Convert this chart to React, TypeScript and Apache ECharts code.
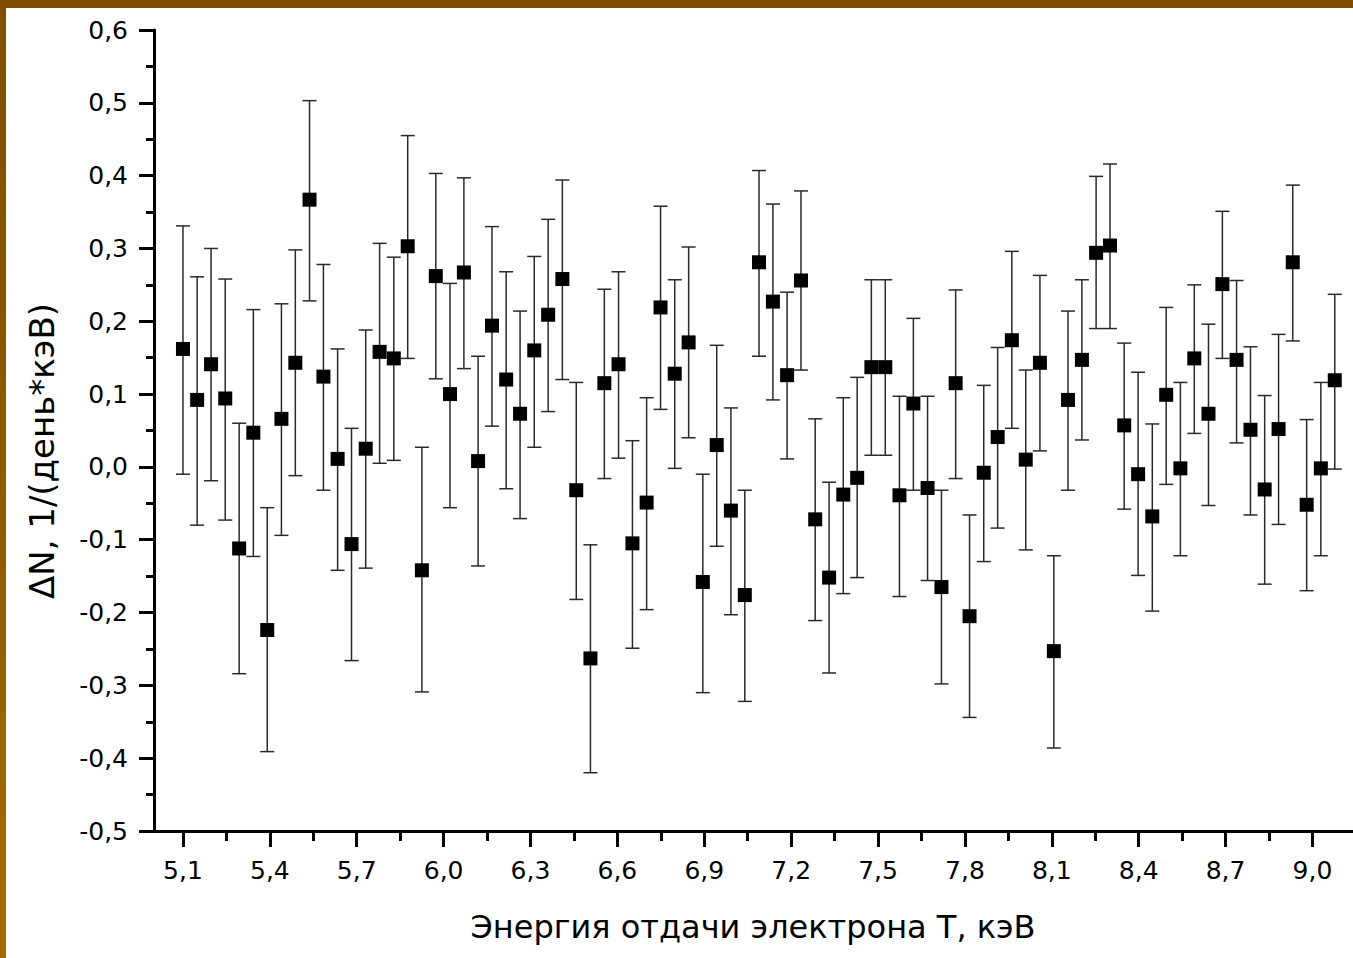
import React, { useEffect, useRef } from "react";
import * as echarts from "echarts";

const xVals = [
  5.100, 5.149, 5.197, 5.246, 5.294, 5.343, 5.391, 5.440, 5.488, 5.537,
  5.585, 5.634, 5.682, 5.731, 5.779, 5.828, 5.876, 5.925, 5.973, 6.022,
  6.070, 6.119, 6.167, 6.216, 6.264, 6.313, 6.361, 6.410, 6.458, 6.507,
  6.555, 6.604, 6.652, 6.701, 6.749, 6.798, 6.846, 6.895, 6.943, 6.992,
  7.040, 7.089, 7.137, 7.186, 7.234, 7.283, 7.331, 7.380, 7.428, 7.477,
  7.525, 7.574, 7.622, 7.671, 7.719, 7.768, 7.816, 7.865, 7.913, 7.962,
  8.010, 8.059, 8.107, 8.156, 8.204, 8.253, 8.301, 8.350, 8.398, 8.447,
  8.495, 8.544, 8.592, 8.641, 8.689, 8.738, 8.786, 8.835, 8.883, 8.932,
  8.980, 9.029, 9.077,
];

const yVals = [
  0.162, 0.092, 0.141, 0.094, -0.112, 0.047, -0.224, 0.066, 0.143, 0.367,
  0.124, 0.011, -0.106, 0.025, 0.158, 0.149, 0.303, -0.142, 0.262, 0.100,
  0.267, 0.008, 0.194, 0.120, 0.073, 0.160, 0.209, 0.258, -0.032, -0.263,
  0.115, 0.141, -0.105, -0.049, 0.219, 0.128, 0.171, -0.158, 0.030, -0.060,
  -0.176, 0.281, 0.227, 0.126, 0.256, -0.072, -0.152, -0.038, -0.015, 0.137,
  0.137, -0.039, 0.087, -0.029, -0.165, 0.115, -0.205, -0.008, 0.041, 0.174,
  0.010, 0.143, -0.253, 0.092, 0.147, 0.294, 0.304, 0.057, -0.010, -0.068,
  0.099, -0.002, 0.149, 0.073, 0.251, 0.147, 0.051, -0.031, 0.052, 0.281,
  -0.052, -0.002, 0.119,
];

const yHi = [
  0.331, 0.261, 0.300, 0.258, 0.060, 0.216, -0.056, 0.224, 0.298, 0.503,
  0.278, 0.162, 0.053, 0.188, 0.307, 0.288, 0.455, 0.027, 0.403, 0.252,
  0.397, 0.152, 0.330, 0.268, 0.214, 0.289, 0.340, 0.394, 0.116, -0.107,
  0.244, 0.268, 0.036, 0.095, 0.358, 0.257, 0.302, -0.010, 0.167, 0.081,
  -0.032, 0.407, 0.361, 0.240, 0.379, 0.066, -0.021, 0.095, 0.123, 0.257,
  0.257, 0.097, 0.204, 0.097, -0.032, 0.243, -0.066, 0.112, 0.164, 0.296,
  0.133, 0.263, -0.122, 0.214, 0.257, 0.399, 0.416, 0.170, 0.130, 0.059,
  0.219, 0.116, 0.250, 0.196, 0.351, 0.256, 0.165, 0.098, 0.182, 0.387,
  0.065, 0.116, 0.237,
];

const yLo = [
  -0.010, -0.080, -0.019, -0.073, -0.284, -0.123, -0.391, -0.094, -0.012, 0.228,
  -0.032, -0.142, -0.266, -0.139, 0.005, 0.009, 0.149, -0.309, 0.121, -0.056,
  0.135, -0.136, 0.056, -0.030, -0.071, 0.027, 0.076, 0.120, -0.182, -0.420,
  -0.016, 0.012, -0.249, -0.196, 0.079, -0.002, 0.040, -0.310, -0.109, -0.203,
  -0.322, 0.152, 0.092, 0.011, 0.133, -0.211, -0.283, -0.174, -0.152, 0.016,
  0.016, -0.178, -0.032, -0.156, -0.298, -0.016, -0.344, -0.130, -0.084, 0.053,
  -0.114, 0.022, -0.386, -0.032, 0.037, 0.190, 0.190, -0.058, -0.149, -0.198,
  -0.024, -0.122, 0.046, -0.053, 0.149, 0.033, -0.066, -0.161, -0.079, 0.173,
  -0.170, -0.122, -0.003,
];

const xMajorTicks = [5.1, 5.4, 5.7, 6.0, 6.3, 6.6, 6.9, 7.2, 7.5, 7.8, 8.1, 8.4, 8.7, 9.0];
const xMinorTicks = [5.25, 5.55, 5.85, 6.15, 6.45, 6.75, 7.05, 7.35, 7.65, 7.95, 8.25, 8.55, 8.85];

const xTitle = "Энергия отдачи электрона Т, кэВ";
const yTitle = "ΔN, 1/(день*кэВ)";

const FONT = "DejaVu Sans";

export default function App() {
  const ref = useRef<HTMLDivElement>(null);

  useEffect(() => {
    if (!ref.current) return;
    const chart = echarts.init(ref.current, undefined, { renderer: "svg" });
    const fmt = (v: number) => v.toFixed(1).replace(".", ",");
    const points = xVals.map((x, i) => [x, yVals[i]]);
    const errs = xVals.map((x, i) => [x, yLo[i], yHi[i]]);

    chart.setOption({
      animation: false,
      backgroundColor: "#fff",
      grid: { left: 154, top: 30, right: 0, bottom: 127, containLabel: false },
      xAxis: [
        {
          type: "value",
          min: 5.0,
          max: 9.14,
          position: "bottom",
          axisLine: { show: true, onZero: false, lineStyle: { color: "#000", width: 3 } },
          splitLine: { show: false },
          axisTick: {
            show: true,
            inside: false,
            length: 16,
            customValues: xMajorTicks,
            lineStyle: { color: "#000", width: 3 },
          },
          axisLabel: {
            show: true,
            customValues: xMajorTicks,
            formatter: fmt,
            margin: 27,
            fontFamily: FONT,
            fontSize: 25,
            color: "#000",
          },
        },
        {
          type: "value",
          min: 5.0,
          max: 9.14,
          position: "bottom",
          offset: 0,
          axisLine: { show: false, onZero: false },
          splitLine: { show: false },
          axisTick: {
            show: true,
            inside: false,
            length: 10,
            customValues: xMinorTicks,
            lineStyle: { color: "#000", width: 3 },
          },
          axisLabel: { show: false },
        },
      ],
      yAxis: {
        type: "value",
        min: -0.5,
        max: 0.6,
        interval: 0.1,
        axisLine: { show: true, onZero: false, lineStyle: { color: "#000", width: 3 } },
        splitLine: { show: false },
        axisTick: { show: true, inside: false, length: 15, lineStyle: { color: "#000", width: 3 } },
        minorTick: { show: true, splitNumber: 2, length: 8, lineStyle: { color: "#000", width: 3 } },
        minorSplitLine: { show: false },
        axisLabel: {
          formatter: fmt,
          margin: 26,
          fontFamily: FONT,
          fontSize: 25,
          color: "#000",
        },
      },
      series: [
        {
          type: "custom",
          xAxisIndex: 0,
          yAxisIndex: 0,
          z: 2,
          data: errs,
          renderItem: (params: any, api: any) => {
            const x = api.value(0);
            const lo = api.value(1);
            const hi = api.value(2);
            const pHi = api.coord([x, hi]);
            const pLo = api.coord([x, lo]);
            const hw = 7;
            const style = { stroke: "#2a2a2a", lineWidth: 1.5 };
            return {
              type: "group",
              children: [
                { type: "line", shape: { x1: pHi[0], y1: pHi[1], x2: pLo[0], y2: pLo[1] }, style },
                { type: "line", shape: { x1: pHi[0] - hw, y1: pHi[1], x2: pHi[0] + hw, y2: pHi[1] }, style },
                { type: "line", shape: { x1: pLo[0] - hw, y1: pLo[1], x2: pLo[0] + hw, y2: pLo[1] }, style },
              ],
            };
          },
        },
        {
          type: "scatter",
          xAxisIndex: 0,
          yAxisIndex: 0,
          z: 3,
          symbol: "rect",
          symbolSize: 14,
          itemStyle: { color: "#000", opacity: 1 },
          emphasis: { disabled: true },
          data: points,
        },
      ],
      graphic: [
        {
          type: "text",
          x: 753,
          y: 927,
          style: {
            text: xTitle,
            fontFamily: FONT,
            fontSize: 32,
            fill: "#000",
            textAlign: "center",
            textVerticalAlign: "middle",
          },
        },
        {
          type: "text",
          x: 42,
          y: 451,
          rotation: Math.PI / 2,
          style: {
            text: yTitle,
            fontFamily: FONT,
            fontSize: 34,
            fill: "#000",
            textAlign: "center",
            textVerticalAlign: "middle",
          },
        },
      ],
    });
    return () => chart.dispose();
  }, []);

  return (
    <div style={{ position: "fixed", left: 0, top: 0, width: 1353, height: 958, background: "#fff" }}>
      <div ref={ref} style={{ position: "absolute", left: 0, top: 0, width: 1353, height: 958 }} />
      <div style={{ position: "absolute", left: 0, top: 0, width: 1353, height: 8, background: "#7f4e00" }} />
      <div
        style={{
          position: "absolute",
          left: 0,
          top: 0,
          width: 6,
          height: 958,
          background: "linear-gradient(#7f4e00, #8a5800 40%, #a36c05)",
        }}
      />
    </div>
  );
}
